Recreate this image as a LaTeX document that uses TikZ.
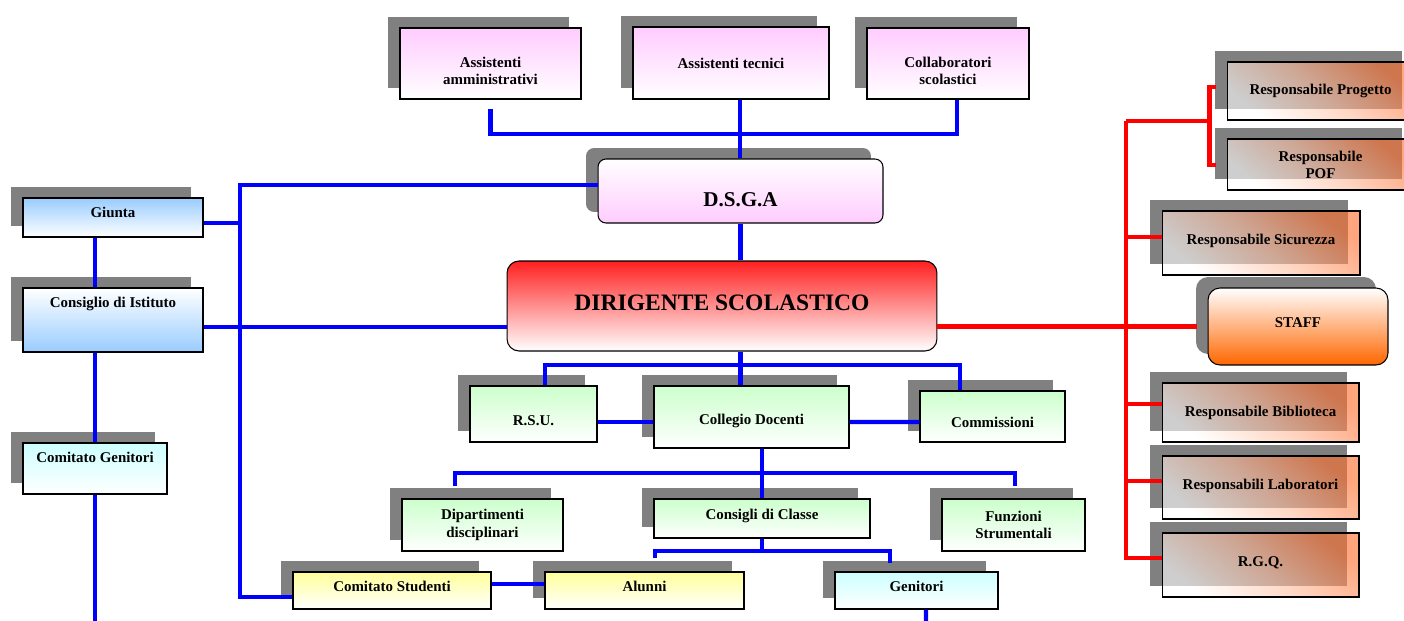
\documentclass[tikz,border=0pt]{standalone}
\usepackage{fontspec}
\setmainfont{Liberation Serif}
\usepackage{tikz}
\usetikzlibrary{shapes,shadows,calc}
\definecolor{shadowgray}{RGB}{128,128,128}
\definecolor{pinktop}{RGB}{255,204,255}
\definecolor{bluetop}{RGB}{153,204,255}
\definecolor{cyantop}{RGB}{204,255,255}
\definecolor{greentop}{RGB}{204,255,204}
\definecolor{yellowtop}{RGB}{255,255,153}
\definecolor{dirred}{RGB}{255,32,32}
\definecolor{staffor}{RGB}{255,102,0}
\definecolor{respor}{RGB}{255,112,48}
\tikzstyle{plain} = [rectangle, draw=black, line width=0.6pt, inner sep=1pt,
    align=center, font=\bfseries\fontsize{8.5}{9.8}\selectfont]
\tikzstyle{box} = [plain, drop shadow={shadow xshift=-0.24cm, shadow yshift=0.22cm,
    fill=shadowgray, opacity=1}]
\tikzstyle{pinkbox} = [box, top color=pinktop, bottom color=white]
\tikzstyle{bluebox} = [box, top color=bluetop, bottom color=white]
\tikzstyle{cyanbox} = [box, top color=cyantop, bottom color=white]
\tikzstyle{greenbox} = [box, top color=greentop, bottom color=white]
\tikzstyle{yellowbox} = [box, top color=yellowtop, bottom color=white]
\tikzstyle{respbox} = [box, fill opacity=0.62, text opacity=1, top color=respor,
    bottom color=white, middle color=respor!45, shading angle=-40]
\tikzstyle{bline} = [draw, line width=2.3pt, color=blue]
\tikzstyle{rline} = [draw, line width=2.3pt, color=red]
\tikzset{tup/.style={text height=6pt, text depth=#1},
    tdn/.style={text height=#1, text depth=0pt}}

\begin{document}
\begin{tikzpicture}[x=0.02cm, y=-0.02cm]
    \useasboundingbox (0,0) rectangle (1404,621);
    \clip (0,0) rectangle (1404,621);

    % Place nodes
    \node [pinkbox, tdn=24.4pt, minimum width=3.62cm, minimum height=1.42cm] (amm) at (490.5,63.5) {Assistenti\\amministrativi};
    \node [pinkbox, minimum width=3.92cm, minimum height=1.44cm] (tec) at (731,63) {Assistenti tecnici};
    \node [pinkbox, tdn=24.4pt, minimum width=3.24cm, minimum height=1.42cm] (collab) at (948,63.5) {Collaboratori\\scolastici};
    \node [box, rounded corners=0.16cm, top color=white, bottom color=pinktop, tdn=18.2pt,
        font=\bfseries\fontsize{12}{14}\selectfont, minimum width=5.7cm, minimum height=1.28cm] (dsga) at (740.5,191) {D.S.G.A};
    \node [plain, rounded corners=0.24cm, top color=dirred, bottom color=white, tup=0.4pt,
        font=\bfseries\fontsize{13.4}{15}\selectfont, minimum width=8.6cm, minimum height=1.8cm] (dir) at (722,306) {DIRIGENTE SCOLASTICO};

    \node [bluebox, tup=5.5pt, minimum width=3.6cm, minimum height=0.78cm] (giunta) at (113,217.5) {Giunta};
    \node [box, top color=white, bottom color=bluetop, tup=19.7pt, minimum width=3.6cm, minimum height=1.28cm] (consiglio) at (113,320) {Consiglio di Istituto};
    \node [cyanbox, tup=12.3pt, minimum width=2.88cm, minimum height=1.02cm] (comgen) at (95,468.5) {Comitato Genitori};

    \node [greenbox, tdn=13.5pt, minimum width=2.54cm, minimum height=1.12cm] (rsu) at (533.5,414) {R.S.U.};
    \node [greenbox, tdn=9pt, minimum width=3.9cm, minimum height=1.24cm] (coll) at (751.5,417) {Collegio Docenti};
    \node [greenbox, tdn=13pt, minimum width=2.9cm, minimum height=1.02cm] (comm) at (992.5,416.5) {Commissioni};
    \node [greenbox, minimum width=3.22cm, minimum height=1.04cm] (dip) at (482.5,525) {Dipartimenti\\disciplinari};
    \node [greenbox, tup=4.4pt, minimum width=4.32cm, minimum height=0.78cm] (cons) at (762,518.5) {Consigli di Classe};
    \node [greenbox, minimum width=2.86cm, minimum height=1.04cm] (funz) at (1013.5,525) {Funzioni\\Strumentali};

    \node [yellowbox, tup=4.4pt, minimum width=3.96cm, minimum height=0.74cm] (comstud) at (392,590.5) {Comitato Studenti};
    \node [yellowbox, tup=4.4pt, minimum width=3.98cm, minimum height=0.74cm] (alunni) at (644.5,590.5) {Alunni};
    \node [cyanbox, tup=4.4pt, minimum width=3.26cm, minimum height=0.74cm] (genitori) at (916.5,590.5) {Genitori};

    \node [respbox, minimum width=3.74cm, minimum height=1.16cm] (prog) at (1320.5,91) {Responsabile Progetto};
    \node [respbox, font=\bfseries\fontsize{8.5}{9.6}\selectfont, minimum width=3.74cm, minimum height=1.02cm] (pof) at (1320.5,164.5) {Responsabile\\POF};
    \node [respbox, tup=3.8pt, minimum width=3.96cm, minimum height=1.28cm] (sic) at (1261,243) {Responsabile Sicurezza};
    \node [box, rounded corners=0.24cm, top color=white, bottom color=staffor, tup=4.4pt,
        minimum width=3.6cm, minimum height=1.54cm] (staff) at (1298,326.5) {STAFF};
    \node [respbox, minimum width=3.94cm, minimum height=1.18cm] (bib) at (1260.5,412.5) {Responsabile Biblioteca};
    \node [respbox, tup=3.2pt, minimum width=3.94cm, minimum height=1.26cm] (lab) at (1260.5,487.5) {Responsabili Laboratori};
    \node [respbox, tup=3.8pt, minimum width=3.94cm, minimum height=1.28cm] (rgq) at (1260.5,565) {R.G.Q.};

    % Bus points
    \coordinate (topbus) at (740,134);
    \coordinate (lbusB) at (240,597);
    \coordinate (lbot) at (95,621);
    \coordinate (gbot) at (926,621);
    \coordinate (bus1) at (741,365);
    \coordinate (bus2) at (762,473);
    \coordinate (bus3) at (762,551);
    \coordinate (rbusT) at (1126,121);
    \coordinate (brk) at (1210,121);

    % Draw edges
    \path [bline] ($(amm.south)+(0,9)$) |- (topbus) -| ($(collab.south)+(9,0)$);
    \path [bline] (topbus |- tec.south) -- (topbus |- dsga.north);
    \path [bline] (dsga.south) -- (dsga.south |- dir.north);
    \path [bline] ($(dsga.west)+(0,-6)$) -| (lbusB) -- (lbusB -| comstud.west);
    \path [bline] ($(giunta.east)+(0,5.5)$) -| (lbusB);
    \path [bline] ($(consiglio.east)+(0,7)$) -- ($(dir.west)+(0,21)$);
    \path [bline] (giunta.south -| comgen.north) -- (consiglio.north -| comgen.north);
    \path [bline] (consiglio.south -| comgen.north) -- (comgen.north);
    \path [bline] (comgen.south) -- (lbot);
    \path [bline] (dsga.south |- dir.south) -- (dsga.south |- coll.north);
    \path [bline] ($(rsu.north)+(11.5,0)$) |- (bus1) -| ($(comm.north)+(-32.5,0)$);
    \path [bline] ($(rsu.east)+(0,8)$) -- ($(coll.west)+(0,5)$);
    \path [bline] ($(coll.east)+(0,5)$) -- ($(comm.west)+(0,5.5)$);
    \path [bline] (cons.north |- coll.south) -- (cons.north);
    \path [bline] ($(dip.north)+(-27.5,-12)$) |- (bus2) -| ($(funz.north)+(1.5,-12)$);
    \path [bline] (cons.south) -- (bus3);
    \path [bline] ($(alunni.north)+(10.5,-13)$) |- (bus3) -| ($(genitori.north)+(-26.5,-8)$);
    \path [bline] ($(comstud.east)+(0,-6.5)$) -- ($(alunni.west)+(0,-6.5)$);
    \path [bline] ($(genitori.south)+(9.5,0)$) -- (gbot);

    \path [rline] ($(dir.east)+(0,20.5)$) -- ($(staff.west)+(-11,0)$);
    \path [rline] (rbusT) |- ($(rgq.west)+(0,-7)$);
    \path [rline] (rbusT) -- (brk);
    \path [rline] ($(prog.west)+(-11,-4)$) -| ($(pof.west)+(-17,0.5)$) -- ($(pof.west)+(-11,0.5)$);
    \path [rline] ($(sic.west)+(0,-6)$) -| (rbusT);
    \path [rline] ($(bib.west)+(0,-8.5)$) -| (rbusT);
    \path [rline] ($(lab.west)+(0,-6.5)$) -| (rbusT);
\end{tikzpicture}
\end{document}
